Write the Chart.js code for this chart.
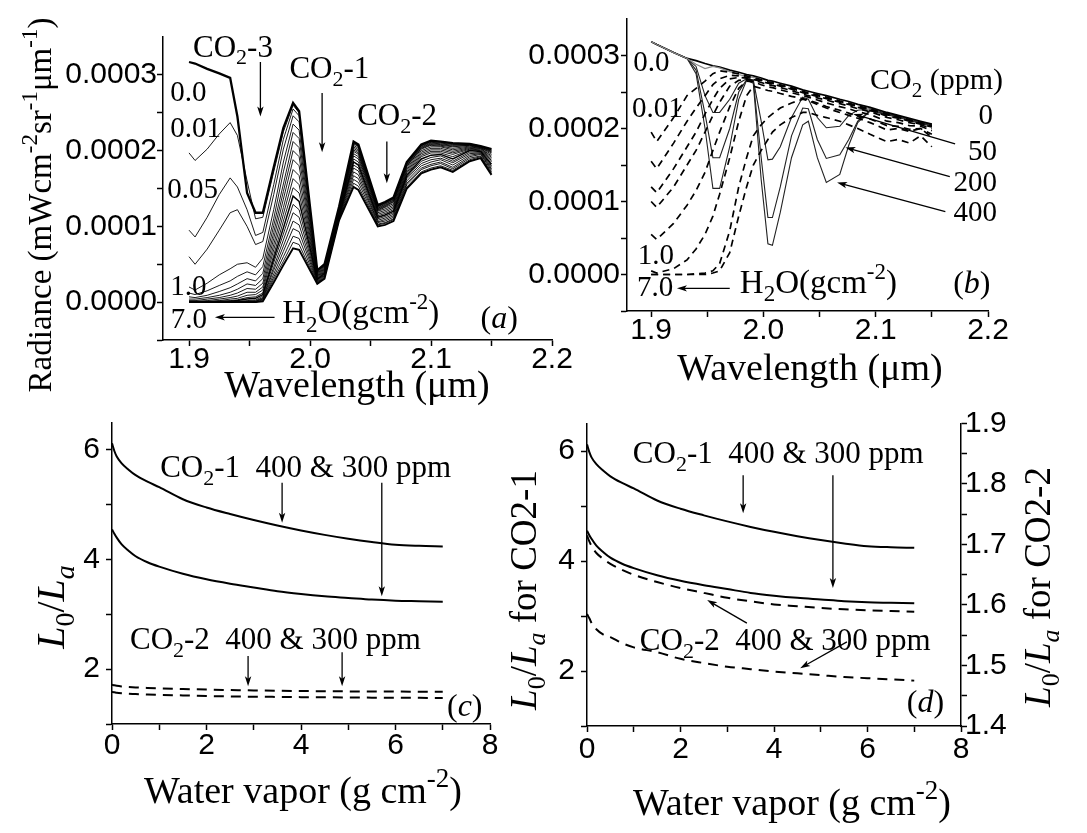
<!DOCTYPE html>
<html><head><meta charset="utf-8">
<script src="https://cdn.jsdelivr.net/npm/chart.js@4.4.0/dist/chart.umd.min.js"></script>
<style>
html,body{margin:0;padding:0;background:#fff;}
#wrap{position:relative;width:1087px;height:833px;overflow:hidden;background:#fff;}
canvas{position:absolute;left:0;top:0;}
</style></head><body><div id="wrap">
<canvas id="ca" width="1087" height="833"></canvas>
<canvas id="cb" width="1087" height="833"></canvas>
<canvas id="cc" width="1087" height="833"></canvas>
<canvas id="cd" width="1087" height="833"></canvas>
</div>
<script>
// ---------------- Panel (a): radiance (units of 1e-4 mW cm-2 sr-1 um-1) vs wavelength, for H2O amounts
const wavelengthA = [1.900,1.905,1.915,1.925,1.934,1.940,1.948,1.955,1.961,1.970,1.978,1.986,1.991,2.006,2.012,2.024,2.036,2.040,2.056,2.062,2.069,2.080,2.092,2.100,2.108,2.118,2.132,2.141,2.150];
const waterA = [0,0.01,0.05,0.1,0.2,0.3,0.4,0.5,0.6,0.7,0.8,0.9,1.0,1.5,2,3,4,5,6,7];
const radianceA = [
 [3.17,3.15,3.08,3.02,2.96,2.45,1.44,1.18,1.18,1.78,2.30,2.63,2.52,0.42,0.50,1.26,2.12,2.08,1.28,1.32,1.38,1.85,2.08,2.13,2.12,2.10,2.09,2.06,2.02],
 [1.97,1.87,2.02,2.22,2.37,2.20,1.60,1.10,1.12,1.72,2.25,2.60,2.50,0.41,0.49,1.25,2.11,2.07,1.27,1.31,1.37,1.84,2.07,2.12,2.11,2.09,2.09,2.06,2.01],
 [0.95,0.86,1.12,1.42,1.64,1.52,1.22,0.88,0.92,1.55,2.15,2.55,2.46,0.40,0.48,1.24,2.10,2.06,1.26,1.30,1.36,1.83,2.06,2.11,2.10,2.08,2.08,2.05,2.00],
 [0.60,0.50,0.70,0.95,1.18,1.22,1.00,0.76,0.80,1.42,2.02,2.46,2.38,0.39,0.47,1.23,2.09,2.05,1.25,1.29,1.35,1.82,2.05,2.10,2.09,2.07,2.08,2.05,1.99],
 [0.20,0.16,0.25,0.36,0.44,0.50,0.52,0.46,0.58,1.22,1.85,2.35,2.27,0.38,0.46,1.22,2.07,2.03,1.24,1.28,1.34,1.81,2.04,2.09,2.08,2.06,2.07,2.05,1.98],
 [0.12,0.10,0.15,0.22,0.28,0.34,0.40,0.36,0.47,1.10,1.72,2.24,2.16,0.37,0.45,1.21,2.05,2.01,1.23,1.27,1.33,1.80,2.03,2.08,2.07,2.05,2.07,2.04,1.97],
 [0.07,0.06,0.09,0.14,0.19,0.24,0.31,0.28,0.38,1.01,1.56,2.12,2.04,0.36,0.44,1.20,2.03,1.99,1.22,1.26,1.32,1.79,2.02,2.07,2.06,2.03,2.06,2.04,1.95],
 [0.04,0.04,0.06,0.09,0.13,0.17,0.24,0.22,0.31,0.92,1.46,2.00,1.92,0.35,0.43,1.19,2.01,1.97,1.21,1.25,1.30,1.77,2.00,2.05,2.05,2.01,2.05,2.03,1.93],
 [0.02,0.02,0.04,0.06,0.09,0.12,0.18,0.17,0.25,0.84,1.36,1.88,1.80,0.34,0.42,1.18,1.99,1.95,1.20,1.23,1.28,1.75,1.98,2.03,2.03,1.99,2.04,2.03,1.91],
 [0.01,0.01,0.02,0.04,0.06,0.08,0.13,0.13,0.20,0.76,1.25,1.75,1.67,0.33,0.41,1.17,1.96,1.92,1.18,1.21,1.26,1.73,1.96,2.01,2.01,1.97,2.03,2.02,1.89],
 [0.01,0.01,0.01,0.02,0.04,0.05,0.09,0.10,0.16,0.69,1.16,1.63,1.55,0.32,0.40,1.16,1.93,1.89,1.16,1.19,1.24,1.71,1.94,1.99,1.99,1.95,2.02,2.01,1.87],
 [0.00,0.00,0.01,0.01,0.02,0.03,0.06,0.07,0.12,0.62,1.07,1.51,1.44,0.31,0.39,1.15,1.89,1.85,1.14,1.17,1.22,1.69,1.92,1.97,1.97,1.92,2.01,2.00,1.85],
 [0.00,0.00,0.00,0.01,0.01,0.02,0.04,0.05,0.10,0.57,0.98,1.40,1.33,0.30,0.38,1.14,1.85,1.81,1.12,1.15,1.20,1.67,1.89,1.94,1.95,1.89,2.00,1.99,1.82],
 [0.00,0.00,0.00,0.00,0.01,0.01,0.02,0.03,0.08,0.52,0.90,1.29,1.22,0.29,0.37,1.13,1.81,1.77,1.10,1.13,1.18,1.65,1.86,1.91,1.93,1.86,1.98,1.98,1.80],
 [0.00,0.00,0.00,0.00,0.00,0.01,0.01,0.02,0.06,0.46,0.82,1.18,1.12,0.28,0.36,1.12,1.77,1.73,1.08,1.11,1.16,1.63,1.83,1.88,1.90,1.84,1.96,1.97,1.78],
 [0.00,0.00,0.00,0.00,0.00,0.00,0.01,0.01,0.05,0.42,0.74,1.07,1.02,0.27,0.35,1.11,1.72,1.68,1.06,1.09,1.14,1.60,1.80,1.85,1.88,1.81,1.94,1.96,1.76],
 [0.00,0.00,0.00,0.00,0.00,0.00,0.00,0.01,0.04,0.37,0.67,0.97,0.93,0.26,0.34,1.10,1.67,1.63,1.05,1.07,1.12,1.57,1.77,1.82,1.85,1.78,1.92,1.95,1.74],
 [0.00,0.00,0.00,0.00,0.00,0.00,0.00,0.00,0.03,0.33,0.60,0.87,0.84,0.25,0.33,1.09,1.62,1.58,1.03,1.05,1.10,1.55,1.75,1.80,1.83,1.76,1.90,1.93,1.72],
 [0.00,0.00,0.00,0.00,0.00,0.00,0.00,0.00,0.02,0.30,0.54,0.79,0.76,0.245,0.32,1.085,1.57,1.53,1.02,1.04,1.09,1.52,1.72,1.77,1.80,1.74,1.88,1.92,1.70],
 [0.00,0.00,0.00,0.00,0.00,0.00,0.00,0.00,0.01,0.26,0.49,0.71,0.69,0.24,0.31,1.08,1.52,1.48,1.00,1.02,1.07,1.50,1.70,1.75,1.78,1.72,1.86,1.90,1.68]
];

// ---------------- Panel (b)
const wavelengthB = [1.900,1.905,1.920,1.932,1.940,1.948,1.955,1.961,1.970,1.978,1.985,1.991,1.998,2.004,2.008,2.015,2.025,2.035,2.040,2.048,2.056,2.068,2.076,2.084,2.095,2.110,2.120,2.130,2.140,2.150];
const co2ppmB = [0, 50, 200, 400];
const radianceCO2B = [
 [3.19,3.15,3.04,2.96,2.93,2.89,2.86,2.84,2.80,2.77,2.74,2.72,2.69,2.66,2.65,2.62,2.58,2.53,2.51,2.48,2.45,2.40,2.37,2.33,2.29,2.22,2.18,2.14,2.10,2.06],
 [3.19,3.15,3.04,2.96,2.85,2.45,2.22,2.22,2.40,2.62,2.68,2.66,2.10,1.57,1.58,1.75,2.15,2.43,2.40,2.15,2.01,2.03,2.18,2.25,2.27,2.21,2.17,2.13,2.09,2.05],
 [3.19,3.15,3.04,2.96,2.80,2.20,1.60,1.60,2.00,2.50,2.67,2.64,1.60,0.78,0.78,1.20,1.90,2.28,2.27,1.85,1.59,1.64,1.85,2.10,2.25,2.20,2.16,2.12,2.08,2.04],
 [3.19,3.15,3.04,2.96,2.75,2.00,1.18,1.18,1.75,2.40,2.66,2.62,1.30,0.42,0.40,0.85,1.60,2.05,2.10,1.60,1.26,1.37,1.77,2.08,2.24,2.19,2.15,2.11,2.07,2.03]
];
const grayLineB = [3.19,3.15,3.04,2.96,2.88,2.82,2.85,2.83,2.78,2.74,2.71,2.70,2.68,null,null,null,null,null,null,null,null,null,null,null,null,null,null,null,null,null];
const waterB = [0.01,0.05,0.1,0.2,0.5,1.0,3.0,7.0];
const radianceH2OB = [
 [1.95,1.82,2.15,2.45,2.55,2.65,2.75,2.79,2.77,2.75,2.72,2.70,2.67,2.64,2.63,2.60,2.56,2.51,2.49,2.46,2.43,2.38,2.35,2.31,2.27,2.20,2.16,2.12,2.08,2.04],
 [1.55,1.45,1.80,2.10,2.28,2.45,2.60,2.68,2.73,2.72,2.70,2.68,2.66,2.63,2.62,2.59,2.55,2.50,2.48,2.45,2.42,2.37,2.34,2.30,2.26,2.19,2.15,2.11,2.07,2.03],
 [1.20,1.12,1.45,1.75,1.95,2.20,2.40,2.55,2.68,2.70,2.69,2.67,2.65,2.62,2.61,2.58,2.54,2.49,2.47,2.44,2.41,2.36,2.33,2.29,2.25,2.17,2.14,2.10,2.06,2.02],
 [1.00,0.92,1.20,1.50,1.70,1.95,2.18,2.36,2.58,2.66,2.67,2.66,2.63,2.60,2.59,2.56,2.52,2.47,2.45,2.42,2.39,2.34,2.31,2.27,2.23,2.15,2.12,2.08,2.05,2.00],
 [0.55,0.48,0.70,0.95,1.15,1.40,1.70,1.95,2.30,2.55,2.65,2.64,2.60,2.57,2.56,2.53,2.49,2.45,2.43,2.39,2.35,2.30,2.27,2.23,2.19,2.10,2.08,2.04,2.03,1.97],
 [0.05,0.02,0.08,0.20,0.35,0.55,0.80,1.10,1.60,2.10,2.45,2.58,2.55,2.52,2.51,2.48,2.44,2.41,2.39,2.35,2.30,2.25,2.21,2.17,2.13,2.04,2.03,1.99,2.00,1.92],
 [0.00,0.00,0.00,0.00,0.01,0.02,0.05,0.15,0.60,1.20,1.60,1.90,2.05,2.15,2.20,2.28,2.35,2.40,2.38,2.33,2.28,2.22,2.18,2.14,2.08,1.98,2.00,1.96,2.00,1.88],
 [0.00,0.00,0.00,0.00,0.00,0.00,0.02,0.05,0.30,0.80,1.20,1.50,1.70,1.85,1.95,2.05,2.15,2.22,2.22,2.18,2.15,2.10,2.05,2.00,1.92,1.82,1.85,1.80,1.90,1.75]
];

// ---------------- Panels (c) and (d): L0/La vs water vapor
const waterCD = [0,0.05,0.1,0.2,0.35,0.5,0.75,1.0,1.5,2.0,2.5,3.0,3.5,4.0,4.5,5.0,5.5,6.0,6.5,7.0];
const ratioCO2_1_400 = [6.12,5.98,5.88,5.76,5.64,5.54,5.42,5.32,5.10,4.95,4.83,4.72,4.62,4.53,4.45,4.38,4.32,4.27,4.25,4.24];
const ratioCO2_1_300 = [4.55,4.47,4.40,4.28,4.16,4.06,3.95,3.87,3.74,3.64,3.56,3.49,3.42,3.37,3.33,3.30,3.27,3.25,3.24,3.23];
const ratioCO2_2_400 = [1.715,1.705,1.697,1.686,1.676,1.668,1.658,1.650,1.638,1.628,1.620,1.612,1.606,1.601,1.598,1.595,1.593,1.591,1.590,1.589];
const ratioCO2_2_300 = [1.585,1.578,1.570,1.560,1.551,1.547,1.537,1.530,1.522,1.511,1.504,1.498,1.494,1.490,1.487,1.484,1.481,1.479,1.477,1.475];

// ---------------- tick values and labels
const wlTickValues = [1.9,2.0,2.1,2.2];
const wlTickLabels = ['1.9','2.0','2.1','2.2'];
const wlMinorTicks = [1.95,2.05,2.15];
const radTickValues = [0,1,2,3];
const radTickLabels = ['0.0000','0.0001','0.0002','0.0003'];
const radMinorTicks = [-0.5,0.5,1.5,2.5];
const wvTickValues = [0,2,4,6,8];
const wvTickLabels = ['0','2','4','6','8'];
const wvMinorTicks = [1,3,5,7];
const ratioTickValues = [2,4,6];
const ratioTickLabels = ['2','4','6'];
const ratioMinorTicks = [1,3,5];
const ratio2TickValues = [1.4,1.5,1.6,1.7,1.8,1.9];
const ratio2TickLabels = ['1.4','1.5','1.6','1.7','1.8','1.9'];
const ratio2MinorTicks = [1.45,1.55,1.65,1.75,1.85];

const SERIF = '"Liberation Serif","Times New Roman",serif';
const SANS = '"Liberation Sans",Arial,sans-serif';
const TICK_SIZE = 30;

function parseRich(str){
  const segs=[]; let italic=false;
  str.split(/(~|_\{[^}]*\}|\^\{[^}]*\})/).forEach(tok=>{
    if(!tok) return;
    if(tok==='~'){italic=!italic;return;}
    if(tok.startsWith('_{')||tok.startsWith('^{')){
      let s=tok.slice(2,-1); let it=italic;
      if(s.includes('~')){it=true;s=s.replace(/~/g,'');}
      segs.push({t:s,sub:tok[0]==='_',sup:tok[0]==='^',it});return;
    }
    segs.push({t:tok,it:italic});
  });
  return segs;
}
function drawRich(ctx,str,x,y,o){
  const size=o.size||30, fam=o.family||SERIF;
  const segs=parseRich(str);
  const fontOf=s=>(s.it?'italic ':'')+((s.sub||s.sup)?Math.round(size*0.7):size)+'px '+fam;
  let w=0; segs.forEach(s=>{ctx.font=fontOf(s); s.w=ctx.measureText(s.t).width; w+=s.w;});
  ctx.save(); ctx.translate(x,y); if(o.rot) ctx.rotate(o.rot);
  let cx = o.align==='center' ? -w/2 : (o.align==='right' ? -w : 0);
  ctx.fillStyle='#000'; ctx.textBaseline='alphabetic'; ctx.textAlign='left';
  segs.forEach(s=>{ctx.font=fontOf(s); const dy=s.sub?size*0.25:(s.sup?-size*0.42:0); ctx.fillText(s.t,cx,dy); cx+=s.w;});
  ctx.restore();
}
function drawArrow(ctx,x1,y1,x2,y2){
  const ang=Math.atan2(y2-y1,x2-x1), head=10, hw=3.2;
  ctx.save(); ctx.strokeStyle='#000'; ctx.fillStyle='#000'; ctx.lineWidth=1.3;
  ctx.beginPath(); ctx.moveTo(x1,y1); ctx.lineTo(x2-Math.cos(ang)*head*0.7,y2-Math.sin(ang)*head*0.7); ctx.stroke();
  ctx.translate(x2,y2); ctx.rotate(ang);
  ctx.beginPath(); ctx.moveTo(0,0); ctx.lineTo(-head,-hw); ctx.lineTo(-head*0.75,0); ctx.lineTo(-head,hw); ctx.closePath(); ctx.fill();
  ctx.restore();
}
let pid=0;
function annotPlugin(def){
  return { id:'annot'+(pid++), afterDatasetsDraw(chart){
    const ctx=chart.ctx, xs=chart.scales.x, ys=chart.scales.y;
    (def.arrows||[]).forEach(a=>drawArrow(ctx,xs.getPixelForValue(a.from[0]),ys.getPixelForValue(a.from[1]),xs.getPixelForValue(a.to[0]),ys.getPixelForValue(a.to[1])));
    (def.texts||[]).forEach(t=>drawRich(ctx,t.text,xs.getPixelForValue(t.at[0]),ys.getPixelForValue(t.at[1]),t));
    (def.titles||[]).forEach(t=>drawRich(ctx,t.text,t.px[0],t.px[1],t));
  }};
}
function scaleCfg(ax,position,fit){
  return { type:'linear', position, min:ax.min, max:ax.max,
    afterBuildTicks:s=>{ s.ticks=ax.major.concat(ax.minor).sort((a,b)=>a-b).map(v=>({value:v})); },
    afterFit:fit,
    ticks:{ autoSkip:false, maxRotation:0, minRotation:0, padding:ax.pad, color:'#000', font:{family:SANS,size:TICK_SIZE},
      callback:v=>{ const i=ax.major.findIndex(m=>Math.abs(m-v)<1e-9); return i>=0?ax.labels[i]:''; } },
    grid:{ display:true, drawOnChartArea:false, drawTicks:true, tickLength:6, tickWidth:1.5, color:'#000', tickColor:'#000' },
    border:{ display:true, color:'#000', width:1.5 }
  };
}
function makeChart(id,area,xAx,yAx,y2Ax,datasets,annot){
  const XH=60, Y2W=y2Ax?80:0;
  const scales={ x:scaleCfg(xAx,'bottom',s=>{s.height=XH;}), y:scaleCfg(yAx,'left',s=>{s.width=area.left;}) };
  if(y2Ax) scales.y2=scaleCfg(y2Ax,'right',s=>{s.width=Y2W;});
  new Chart(document.getElementById(id),{
    type:'line', data:{datasets},
    options:{ responsive:false, animation:false, devicePixelRatio:1,
      layout:{padding:{left:0,top:area.top,right:1087-area.right-Y2W,bottom:833-area.bottom-XH}},
      plugins:{legend:{display:false},tooltip:{enabled:false}},
      elements:{point:{radius:0}},
      scales },
    plugins:[annotPlugin(annot)]
  });
}
function series(xs,ys){ return xs.map((x,i)=>({x,y:ys[i]})); }

// ---------- (a)
const dsA = radianceA.map((row,k)=>({
  data:series(wavelengthA,row), borderColor:'#000', pointRadius:0, tension:0, fill:false,
  borderWidth: k===0?2.3:(k===waterA.length-1?1.9:(waterA[k]===1?1.5:0.9))
}));
makeChart('ca',{left:163,right:552,top:37,bottom:340},
  {min:1.8785,max:2.2,major:wlTickValues,labels:wlTickLabels,minor:wlMinorTicks,pad:-4},
  {min:-0.5,max:3.5,major:radTickValues,labels:radTickLabels,minor:radMinorTicks,pad:0},
  null, dsA,
  { texts:[
      {text:'CO_{2}-3',at:[1.9033,3.24],size:31},
      {text:'CO_{2}-1',at:[1.983,2.96],size:31},
      {text:'CO_{2}-2',at:[2.039,2.34],size:31},
      {text:'0.0',at:[1.8844,2.65],size:29},
      {text:'0.01',at:[1.8844,2.18],size:29},
      {text:'0.05',at:[1.882,1.38],size:29},
      {text:'1.0',at:[1.8844,0.09],size:29},
      {text:'7.0',at:[1.885,-0.34],size:29},
      {text:'H_{2}O(gcm^{-2})',at:[1.977,-0.28],size:33},
      {text:'(~a~)',at:[2.141,-0.34],size:32}],
    arrows:[
      {from:[1.959,3.17],to:[1.959,2.45]},
      {from:[2.010,2.76],to:[2.010,1.98]},
      {from:[2.0635,2.12],to:[2.0635,1.57]},
      {from:[1.9707,-0.20],to:[1.9214,-0.20]}],
    titles:[
      {text:'Radiance (mWcm^{-2}sr^{-1}μm^{-1})',px:[51,205],rot:-Math.PI/2,align:'center',size:33},
      {text:'Wavelength (μm)',px:[357,397],align:'center',size:38}]
  });

// ---------- (b)
const dsB = [];
radianceH2OB.forEach(row=>dsB.push({data:series(wavelengthB,row),borderColor:'#000',borderWidth:1.7,borderDash:[7,5],pointRadius:0,tension:0,fill:false}));
dsB.push({data:series(wavelengthB,grayLineB),borderColor:'#8a8a8a',borderWidth:1.2,pointRadius:0,tension:0,fill:false,spanGaps:false});
radianceCO2B.forEach((row,k)=>dsB.push({data:series(wavelengthB,row),borderColor:k===0?'#000':'#222',borderWidth:k===0?1.7:1.1,pointRadius:0,tension:0,fill:false}));
makeChart('cb',{left:627,right:988,top:9,bottom:311},
  {min:1.8785,max:2.2,major:wlTickValues,labels:wlTickLabels,minor:wlMinorTicks,pad:-4},
  {min:-0.5,max:3.5,major:radTickValues,labels:radTickLabels,minor:radMinorTicks,pad:1},
  null, dsB,
  { texts:[
      {text:'0.0',at:[1.884,2.79],size:29},
      {text:'0.01',at:[1.883,2.16],size:29},
      {text:'1.0',at:[1.888,0.15],size:29},
      {text:'7.0',at:[1.8875,-0.29],size:29},
      {text:'H_{2}O(gcm^{-2})',at:[1.979,-0.25],size:33},
      {text:'(~b~)',at:[2.169,-0.25],size:32},
      {text:'CO_{2} (ppm)',at:[2.095,2.54],size:30},
      {text:String(co2ppmB[0]),at:[2.2045,2.06],size:29,align:'right'},
      {text:String(co2ppmB[1]),at:[2.208,1.57],size:29,align:'right'},
      {text:String(co2ppmB[2]),at:[2.208,1.14],size:29,align:'right'},
      {text:String(co2ppmB[3]),at:[2.208,0.73],size:29,align:'right'}],
    arrows:[
      {from:[1.970,-0.19],to:[1.923,-0.19]},
      {from:[2.1707,1.79],to:[2.080,2.20]},
      {from:[2.166,1.34],to:[2.073,1.74]},
      {from:[2.162,0.86],to:[2.0656,1.26]}],
    titles:[ {text:'Wavelength (μm)',px:[810,380],align:'center',size:38} ]
  });

// ---------- (c)
const dsC = [
  {data:series(waterCD,ratioCO2_1_400),borderColor:'#000',borderWidth:2,pointRadius:0,cubicInterpolationMode:'monotone',fill:false},
  {data:series(waterCD,ratioCO2_1_300),borderColor:'#000',borderWidth:2,pointRadius:0,cubicInterpolationMode:'monotone',fill:false},
  {data:series(waterCD,ratioCO2_2_400),borderColor:'#000',borderWidth:2,borderDash:[10,7],pointRadius:0,cubicInterpolationMode:'monotone',fill:false},
  {data:series(waterCD,ratioCO2_2_300),borderColor:'#000',borderWidth:2,borderDash:[10,7],pointRadius:0,cubicInterpolationMode:'monotone',fill:false}
];
makeChart('cc',{left:112,right:490,top:422.5,bottom:724},
  {min:0,max:8,major:wvTickValues,labels:wvTickLabels,minor:wvMinorTicks,pad:-2},
  {min:1,max:6.5,major:ratioTickValues,labels:ratioTickLabels,minor:ratioMinorTicks,pad:6},
  null, dsC,
  { texts:[
      {text:'CO_{2}-1  400 & 300 ppm',at:[1.02,5.51],size:31},
      {text:'CO_{2}-2  400 & 300 ppm',at:[0.38,2.36],size:31},
      {text:'(~c~)',at:[7.09,1.15],size:32}],
    arrows:[
      {from:[3.6,5.4],to:[3.6,4.67]},
      {from:[5.71,5.4],to:[5.71,3.33]},
      {from:[2.88,2.24],to:[2.88,1.69]},
      {from:[4.87,2.31],to:[4.87,1.69]}],
    titles:[
      {text:'~L~_{0}/~L~_{~a~}',px:[64,607],rot:-Math.PI/2,align:'center',size:40},
      {text:'Water vapor (g cm^{-2})',px:[303,803],align:'center',size:38}]
  });

// ---------- (d)
const dsD = [
  {data:series(waterCD,ratioCO2_1_400),borderColor:'#000',borderWidth:2,pointRadius:0,cubicInterpolationMode:'monotone',fill:false},
  {data:series(waterCD,ratioCO2_1_300),borderColor:'#000',borderWidth:2,pointRadius:0,cubicInterpolationMode:'monotone',fill:false},
  {data:series(waterCD,ratioCO2_2_400),yAxisID:'y2',borderColor:'#000',borderWidth:2,borderDash:[10,7],pointRadius:0,cubicInterpolationMode:'monotone',fill:false},
  {data:series(waterCD,ratioCO2_2_300),yAxisID:'y2',borderColor:'#000',borderWidth:2,borderDash:[10,7],pointRadius:0,cubicInterpolationMode:'monotone',fill:false}
];
makeChart('cd',{left:587,right:961,top:423.5,bottom:726},
  {min:0,max:8,major:wvTickValues,labels:wvTickLabels,minor:wvMinorTicks,pad:0},
  {min:1,max:6.5,major:ratioTickValues,labels:ratioTickLabels,minor:ratioMinorTicks,pad:6},
  {min:1.4,max:1.9,major:ratio2TickValues,labels:ratio2TickLabels,minor:ratio2MinorTicks,pad:-2},
  dsD,
  { texts:[
      {text:'CO_{2}-1  400 & 300 ppm',at:[0.98,5.78],size:31},
      {text:'CO_{2}-2  400 & 300 ppm',at:[1.13,2.38],size:31},
      {text:'(~d~)',at:[6.84,1.25],size:32}],
    arrows:[
      {from:[3.34,5.56],to:[3.34,4.87]},
      {from:[5.26,5.56],to:[5.26,3.51]},
      {from:[3.42,2.87],to:[2.57,3.29]},
      {from:[5.56,2.53],to:[4.56,2.05]}],
    titles:[
      {text:'~L~_{0}/~L~_{~a~} for CO2-1',px:[536,590],rot:-Math.PI/2,align:'center',size:37},
      {text:'~L~_{0}/~L~_{~a~} for CO2-2',px:[1050,587],rot:-Math.PI/2,align:'center',size:37},
      {text:'Water vapor (g cm^{-2})',px:[792,815],align:'center',size:38}]
  });
</script>
</body></html>
